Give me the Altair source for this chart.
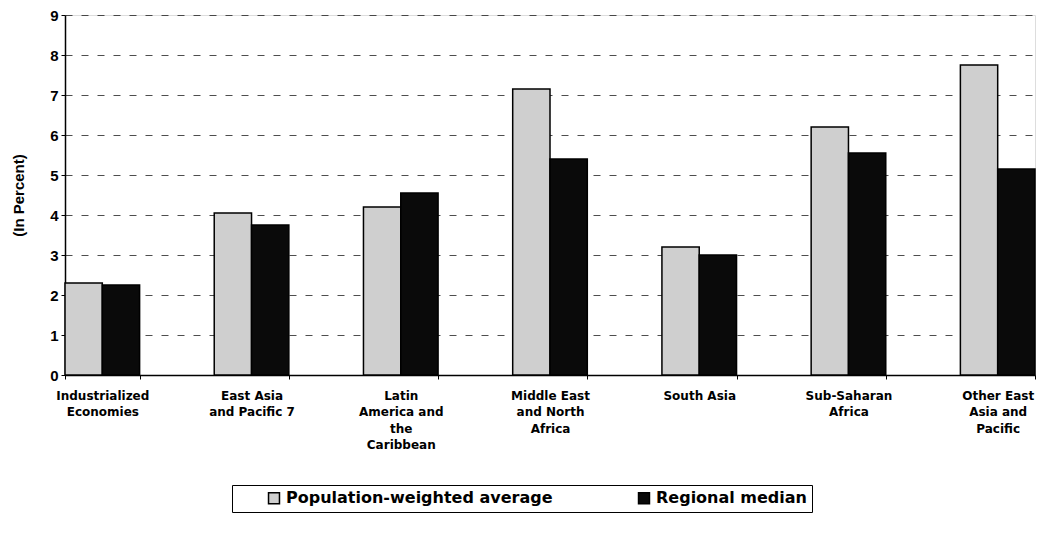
import altair as alt
import pandas as pd

regions = [
    "Industrialized\nEconomies",
    "East Asia\nand Pacific 7",
    "Latin\nAmerica and\nthe\nCaribbean",
    "Middle East\nand North\nAfrica",
    "South Asia",
    "Sub-Saharan\nAfrica",
    "Other East\nAsia and\nPacific",
]
series = ["Population-weighted average", "Regional median"]
pop_weighted = [2.3, 4.05, 4.2, 7.15, 3.2, 6.2, 7.75]
regional_median = [2.25, 3.75, 4.55, 5.4, 3.0, 5.55, 5.15]

rows = []
for r, a, m in zip(regions, pop_weighted, regional_median):
    rows.append({"region": r, "series": series[0], "value": a})
    rows.append({"region": r, "series": series[1], "value": m})
df = pd.DataFrame(rows)

FONT = "Liberation Sans"
WIDE = "DejaVu Sans"
NBSP = "\u00a0" * 11

chart = alt.Chart(df).mark_bar(strokeWidth=1.5, stroke="black").encode(
    x=alt.X(
        "region:N",
        sort=regions,
        scale=alt.Scale(paddingInner=0.5, paddingOuter=0),
        axis=alt.Axis(
            title=None,
            labelAngle=0,
            labelExpr="split(datum.label, '\\n')",
            labelFont=WIDE,
            labelFontWeight="bold",
            labelFontSize=12,
            labelColor="black",
            labelLineHeight=16.5,
            labelPadding=11,
            tickBand="extent",
            tickColor="black",
            tickSize=4,
            domainColor="black",
            domainWidth=1.5,
            grid=False,
        ),
    ),
    xOffset=alt.XOffset("series:N", sort=series, scale=alt.Scale(paddingInner=0, paddingOuter=0)),
    y=alt.Y(
        "value:Q",
        scale=alt.Scale(domain=[0, 9], nice=False),
        axis=alt.Axis(
            title="(In Percent)",
            values=list(range(10)),
            titleFont=FONT,
            titleFontWeight="bold",
            titleFontSize=15,
            titleColor="black",
            titlePadding=23,
            labelFont=FONT,
            labelFontWeight="bold",
            labelFontSize=15,
            labelColor="black",
            labelPadding=3,
            tickColor="black",
            tickSize=4,
            domainColor="black",
            domainWidth=1.5,
            grid=True,
            gridColor="#222222",
            gridDash=[7, 9],
            gridWidth=1,
            gridOpacity=0.8,
        ),
    ),
    fill=alt.Fill(
        "series:N",
        sort=series,
        scale=alt.Scale(domain=series, range=["#cfcfcf", "#0a0a0a"]),
        legend=alt.Legend(
            title=None,
            orient="none",
            legendX=167,
            legendY=470,
            direction="horizontal",
            symbolType="square",
            symbolSize=120,
            symbolStrokeColor="black",
            symbolStrokeWidth=1.5,
            symbolOffset=29,
            labelFont=WIDE,
            labelFontWeight="bold",
            labelFontSize=16,
            labelColor="black",
            labelLimit=500,
            labelOffset=4,
            columnPadding=54,
            padding=5,
            strokeColor="black",
            fillColor="white",
            labelExpr=f"datum.label == '{series[1]}' ? datum.label + '{NBSP}' : datum.label",
        ),
    ),
).properties(
    width=970,
    height=360,
    autosize=alt.AutoSizeParams(type="none"),
    padding={"left": 57, "top": 7, "right": 2, "bottom": 160},
).configure_view(
    stroke="black",
    strokeWidth=1.5,
).configure(background="white")

chart.save("out.html", embed_options={"renderer": "svg", "actions": False})
